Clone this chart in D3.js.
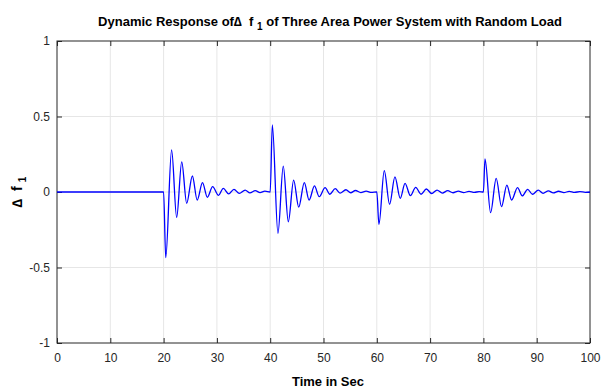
<!DOCTYPE html>
<html>
<head>
<meta charset="utf-8">
<script src="https://cdn.jsdelivr.net/npm/d3@7"></script>
<style>
  body { margin: 0; background: #fff; }
  svg text { font-family: "Liberation Sans", Arial, sans-serif; }
</style>
</head>
<body>
<div id="chart"></div>
<script>
/* data: extrema of the response (time s, Δf1) */
const xTicks = [0, 10, 20, 30, 40, 50, 60, 70, 80, 90, 100];
const yTicks = [-1, -0.5, 0, 0.5, 1];

const times = [
  0, 20,
  20.4, 21.5, 22.45, 23.4, 24.33, 25.4, 26.3, 27.3, 28.2, 29.2, 30.3, 31.2, 32.2, 33.2, 34.2, 35.3, 36.2, 37.2, 38.1, 39.0, 40,
  40.4, 41.45, 42.45, 43.4, 44.4, 45.35, 46.4, 47.3, 48.3, 49.2, 50.3, 51.2, 52.2, 53.1, 54.2, 55.1, 56.0, 57.0, 58.0, 59.0, 60,
  60.4, 61.4, 62.4, 63.4, 64.4, 65.3, 66.3, 67.3, 68.3, 69.3, 70.3, 71.3, 72.3, 73.3, 74.3, 75.3, 76.3, 77.3, 78.3, 79.2, 80,
  80.3, 81.35, 82.4, 83.4, 84.4, 85.3, 86.4, 87.3, 88.3, 89.2, 90.3, 91.2, 92.2, 93.1, 94.1, 95.1, 96.1, 97.1, 98.1, 99.1, 100
];
const deltaF1 = [
  0, 0,
  -0.435, 0.278, -0.168, 0.200, -0.075, 0.106, -0.053, 0.062, -0.035, 0.035, -0.022, 0.024, -0.013, 0.018, -0.009, 0.013, -0.006, 0.009, -0.004, 0.006, 0,
  0.444, -0.274, 0.172, -0.197, 0.079, -0.100, 0.062, -0.053, 0.040, -0.031, 0.029, -0.015, 0.022, -0.007, 0.015, -0.005, 0.010, -0.004, 0.006, -0.003, 0,
  -0.214, 0.141, -0.081, 0.100, -0.042, 0.057, -0.024, 0.031, -0.015, 0.020, -0.010, 0.013, -0.007, 0.009, -0.005, 0.006, -0.004, 0.004, -0.003, 0.003, 0,
  0.220, -0.137, 0.090, -0.097, 0.046, -0.053, 0.029, -0.026, 0.018, -0.015, 0.012, -0.009, 0.008, -0.006, 0.005, -0.004, 0.004, -0.003, 0.003, -0.002, 0
];

const W = 603, H = 388;
const margin = { top: 41, right: 13, bottom: 45, left: 57 };
const w = W - margin.left - margin.right;
const h = H - margin.top - margin.bottom;

const x = d3.scaleLinear().domain([0, 100]).range([0, w]);
const y = d3.scaleLinear().domain([-1, 1]).range([h, 0]);

const svg = d3.select("#chart").append("svg")
  .attr("width", W).attr("height", H);
const g = svg.append("g").attr("transform", `translate(${margin.left},${margin.top})`);

// grid
g.selectAll(".gx").data(xTicks.slice(1, -1)).join("line")
  .attr("x1", d => x(d)).attr("x2", d => x(d)).attr("y1", 0).attr("y2", h)
  .attr("stroke", "#e6e6e6").attr("stroke-width", 1);
g.selectAll(".gy").data(yTicks.slice(1, -1)).join("line")
  .attr("y1", d => y(d)).attr("y2", d => y(d)).attr("x1", 0).attr("x2", w)
  .attr("stroke", "#e6e6e6").attr("stroke-width", 1);

// axes (ticks inward, MATLAB style)
const tickCol = "#262626";
const ax = (sel) => {
  sel.selectAll("text").attr("fill", tickCol).attr("font-size", "12px");
  sel.selectAll(".domain").remove();
  sel.selectAll(".tick line").attr("stroke", tickCol);
};
g.append("g").attr("transform", `translate(0,${h})`)
  .call(d3.axisBottom(x).tickValues(xTicks).tickSizeInner(-5).tickSizeOuter(0).tickPadding(10))
  .call(ax);
g.append("g")
  .call(d3.axisTop(x).tickValues(xTicks).tickSizeInner(-5).tickSizeOuter(0).tickFormat(""))
  .call(ax);
g.append("g")
  .call(d3.axisLeft(y).tickValues(yTicks).tickSizeInner(-5).tickSizeOuter(0).tickPadding(7).tickFormat(d => String(d)))
  .call(ax);
g.append("g").attr("transform", `translate(${w},0)`)
  .call(d3.axisRight(y).tickValues(yTicks).tickSizeInner(-5).tickSizeOuter(0).tickFormat(""))
  .call(ax);

// box
g.append("rect").attr("width", w).attr("height", h)
  .attr("fill", "none").attr("stroke", tickCol).attr("stroke-width", 1);

// response line
const pts = times.map((t, i) => ({ t, v: deltaF1[i] }));
const line = d3.line().x(d => x(d.t)).y(d => y(d.v)).curve(d3.curveMonotoneX);
g.append("path").datum(pts)
  .attr("fill", "none").attr("stroke", "#0000ff").attr("stroke-width", 1.3)
  .attr("d", line);

// title
const title = svg.append("text")
  .attr("x", 330).attr("y", 26).attr("text-anchor", "middle")
  .attr("font-size", "13px").attr("font-weight", "bold").attr("fill", "#000");
title.append("tspan").text("Dynamic Response of\u2206\u00a0\u00a0f\u00a0");
title.append("tspan").attr("dy", 4).attr("font-size", "10px").text("1");
title.append("tspan").attr("dy", -4).text(" of Three Area Power System with Random Load");

// x label
svg.append("text")
  .attr("x", 328).attr("y", 386).attr("text-anchor", "middle")
  .attr("font-size", "13px").attr("font-weight", "bold").attr("fill", "#000")
  .text("Time in Sec");

// y label
const yl = svg.append("text")
  .attr("transform", `translate(22,${margin.top + h / 2}) rotate(-90)`)
  .attr("text-anchor", "middle")
  .attr("font-size", "14px").attr("font-weight", "bold").attr("fill", "#000");
yl.append("tspan").text("\u2206\u00a0\u00a0f\u00a0");
yl.append("tspan").attr("dy", 4).attr("font-size", "10px").text("1");
</script>
</body>
</html>
